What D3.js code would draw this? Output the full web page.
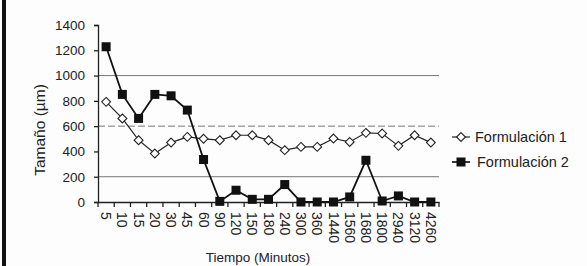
<html>
<head>
    <meta charSet="utf-8">
    <title>Tamaño vs Tiempo</title>
    <script src="https://d3js.org/d3.v7.min.js"></script>
    <style>
        body { margin: 0; background: #fdfdfd; }
        text { font-family: "Liberation Sans", Arial, sans-serif; fill: #222; }
    </style>
</head>
<body>
<svg id="chart"></svg>
<script>
    const tiempos = ["5", "10", "15", "20", "30", "45", "60", "90", "120", "150", "180", "240",
        "300", "360", "1440", "1560", "1680", "1800", "2940", "3120", "4260"];
    const formulacion1 = [792, 661, 489, 383, 470, 515, 500, 489, 528, 528, 489, 410,
        436, 436, 502, 475, 547, 542, 444, 528, 470];
    const formulacion2 = [1228, 851, 661, 851, 840, 727, 336, 5, 93, 21, 21, 138,
        0, 0, 0, 40, 330, 8, 48, 0, 0];
    const yTicks = [0, 200, 400, 600, 800, 1000, 1200, 1400];
    const gridValues = [200, 600, 1000];

    const width = 587, height = 266;
    const plotLeft = 98, plotRight = 439, plotTop = 25, plotBottom = 202;

    const svg = d3.select("#chart")
        .attr("width", width)
        .attr("height", height);

    // left frame line of the scanned figure
    svg.append("rect").attr("x", 2).attr("y", 0).attr("width", 4).attr("height", height).attr("fill", "#111");

    const x = d3.scaleBand().domain(tiempos).range([plotLeft, plotRight]);
    const y = d3.scaleLinear().domain([0, 1400]).range([plotBottom, plotTop]);

    svg.selectAll(".grid")
        .data(gridValues)
        .join("line")
        .attr("x1", plotLeft).attr("x2", plotRight)
        .attr("y1", d => y(d)).attr("y2", d => y(d))
        .attr("stroke", "#777").attr("stroke-width", 1)
        .attr("stroke-dasharray", d => d === 600 ? "7,3" : null);

    const yAxis = svg.append("g")
        .attr("transform", `translate(${plotLeft},0)`)
        .call(d3.axisLeft(y).tickValues(yTicks).tickFormat(d3.format("d")).tickSize(4).tickPadding(9));
    yAxis.selectAll("text").attr("font-size", 13.5);
    yAxis.select(".domain").attr("stroke", "#222").attr("stroke-width", 1.3);
    yAxis.selectAll(".tick line").attr("stroke", "#222").attr("stroke-width", 1.3);

    const xAxis = svg.append("g")
        .attr("transform", `translate(0,${plotBottom})`)
        .call(d3.axisBottom(x).tickSize(0).tickPadding(0));
    xAxis.select(".domain").attr("stroke", "#222").attr("stroke-width", 1.3);
    xAxis.selectAll(".tick text")
        .attr("font-size", 14)
        .attr("transform", "translate(0,10) rotate(90)")
        .attr("text-anchor", "start")
        .attr("dy", "0.35em")
        .attr("y", 0);
    // tick marks between categories
    xAxis.selectAll(".sep")
        .data(d3.range(tiempos.length + 1))
        .join("line")
        .attr("x1", i => plotLeft + i * x.step()).attr("x2", i => plotLeft + i * x.step())
        .attr("y1", 0).attr("y2", 5)
        .attr("stroke", "#222").attr("stroke-width", 1.3);

    const line = d3.line()
        .x((d, i) => x(tiempos[i]) + x.bandwidth() / 2)
        .y(d => y(d));

    svg.append("path").datum(formulacion1)
        .attr("d", line).attr("fill", "none").attr("stroke", "#222").attr("stroke-width", 1.2);
    svg.append("path").datum(formulacion2)
        .attr("d", line).attr("fill", "none").attr("stroke", "#111").attr("stroke-width", 1.8);

    const diamond = d3.symbol().type(d3.symbolDiamond2).size(50);
    svg.selectAll(".f1")
        .data(formulacion1)
        .join("path")
        .attr("transform", (d, i) => `translate(${x(tiempos[i]) + x.bandwidth() / 2},${y(d)})`)
        .attr("d", diamond)
        .attr("fill", "#fff").attr("stroke", "#222").attr("stroke-width", 1.1);

    svg.selectAll(".f2")
        .data(formulacion2)
        .join("rect")
        .attr("x", (d, i) => x(tiempos[i]) + x.bandwidth() / 2 - 4.5)
        .attr("y", d => y(d) - 4.5)
        .attr("width", 9).attr("height", 9)
        .attr("fill", "#111");

    // legend
    const legend = [
        {name: "Formulación 1", y: 137, tx: 475},
        {name: "Formulación 2", y: 162, tx: 477}
    ];
    legend.forEach((l, i) => {
        const g = svg.append("g");
        g.append("line").attr("x1", 452).attr("x2", 470).attr("y1", l.y).attr("y2", l.y)
            .attr("stroke", "#222").attr("stroke-width", i ? 1.8 : 1.2);
        if (i === 0) {
            g.append("path").attr("transform", `translate(461,${l.y})`).attr("d", diamond)
                .attr("fill", "#fff").attr("stroke", "#222").attr("stroke-width", 1.1);
        } else {
            g.append("rect").attr("x", 456.5).attr("y", l.y - 4.5).attr("width", 9).attr("height", 9).attr("fill", "#111");
        }
        g.append("text").attr("x", l.tx).attr("y", l.y).attr("dy", "0.35em")
            .attr("font-size", 14.5).text(l.name);
    });

    svg.append("text")
        .attr("transform", `translate(45,130) rotate(-90)`)
        .attr("text-anchor", "middle")
        .attr("font-size", 15.5)
        .text("Tamaño (µm)");

    svg.append("text")
        .attr("x", 258).attr("y", 262)
        .attr("text-anchor", "middle")
        .attr("font-size", 13.5)
        .text("Tiempo (Minutos)");
</script>
</body>
</html>
